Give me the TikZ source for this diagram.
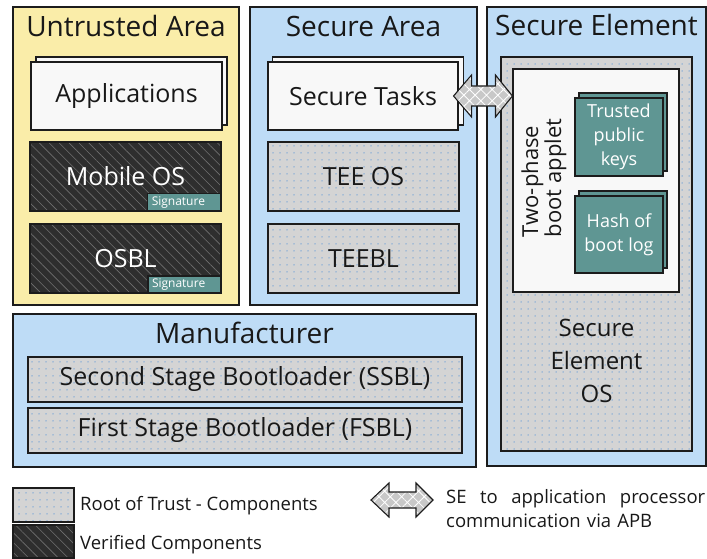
\documentclass[tikz,border=0pt]{standalone}
\usepackage{fontspec}
\setmainfont{Open Sans}
\usetikzlibrary{patterns.meta, calc, positioning}
\definecolor{untrusted}{RGB}{250,237,169}
\definecolor{secure}{RGB}{190,220,246}
\definecolor{rotgray}{RGB}{212,212,212}
\definecolor{rotdot}{RGB}{120,165,215}
\definecolor{verified}{RGB}{46,46,46}
\definecolor{verline}{RGB}{112,112,112}
\definecolor{keyteal}{RGB}{95,150,147}
\definecolor{paper}{RGB}{248,248,248}
\definecolor{edge}{RGB}{28,28,28}
\definecolor{ink}{RGB}{24,24,24}
\definecolor{apbgray}{RGB}{200,200,200}

\newcommand{\titlesize}{\fontsize{28}{32}\selectfont}
\newcommand{\boxsize}{\fontsize{25}{30}\selectfont}
\newcommand{\keysize}{\fontsize{18}{24}\selectfont}
\newcommand{\sigsize}{\fontsize{12}{14}\selectfont}
\newcommand{\legsize}{\fontsize{18.5}{24}\selectfont}

% double arrow: #1 head half height, #2 body half height, #3 left tip, #4 right tip
\newcommand{\apbarrow}[4]{%
  \draw[apb] let \p1=#3, \p2=#4 in
    (\x1,\y1) -- (\x1+18pt,\y1+#1) -- (\x1+18pt,\y1+#2) -- (\x2-17pt,\y2+#2)
    -- (\x2-17pt,\y2+#1) -- (\x2,\y2) -- (\x2-17pt,\y2-#1) -- (\x2-17pt,\y2-#2)
    -- (\x1+18pt,\y1-#2) -- (\x1+18pt,\y1-#1) -- cycle;}

\begin{document}
\begin{tikzpicture}[x=1pt, y=-1pt,
    box/.style={draw=edge, line width=1.1pt, inner sep=0pt, text=ink},
    title/.style={font=\titlesize, text=ink, anchor=base, inner sep=0pt},
    untrustedarea/.style={box, fill=untrusted},
    securearea/.style={box, fill=secure},
    taskbox/.style={box, fill=paper, minimum width=191pt, minimum height=68pt, font=\boxsize},
    rotbox/.style={box, preaction={fill=rotgray}, pattern={Dots[radius=0.8pt,distance=6.5pt]}, pattern color=rotdot},
    verbox/.style={box, preaction={fill=verified}, pattern={Lines[angle=-45,distance=7pt,line width=0.6pt]}, pattern color=verline, text=white},
    sigtag/.style={box, fill=keyteal, text=white, font=\sigsize, minimum height=17pt, text width=65pt, inner xsep=4pt, align=left, anchor=south east},
    keybox/.style={box, fill=keyteal, text=white, font=\keysize, align=center, minimum width=88pt},
    apb/.style={draw=edge, line width=1.1pt, line join=miter, preaction={fill=apbgray}, pattern={Hatch[angle=45,distance=8pt,line width=0.8pt]}, pattern color=white},
    legend/.style={font=\legsize, text=ink, inner sep=0pt}]

    \useasboundingbox (0,0) rectangle (707,559);

    % areas
    \node[untrustedarea, minimum width=226pt, minimum height=298pt] (ua) at (126,156) {};
    \node[securearea, minimum width=227pt, minimum height=298pt] (sa) at (363.5,156) {};
    \node[securearea, minimum width=219pt, minimum height=459pt] (se) at (596.5,236.5) {};
    \node[securearea, minimum width=463pt, minimum height=153pt] (mf) at (244.5,390.5) {};

    \node[title] (ua-title) at (126,37) {Untrusted Area};
    \node[title] (sa-title) at (363.5,37) {Secure Area};
    \node[title] (se-title) at (596.5,36) {Secure Element};
    \node[title] (mf-title) at (244.5,343) {Manufacturer};

    % untrusted area
    \node[taskbox] (apps-back) at (131.5,91) {};
    \node[taskbox] (apps) at (126.5,96) {Applications};
    \node[verbox, minimum width=191pt, minimum height=69pt, font=\boxsize] (mos) at (125.5,176.5) {Mobile OS};
    \node[sigtag] (mos-sig) at (mos.south east) {Signature};
    \node[verbox, minimum width=191pt, minimum height=69pt, font=\boxsize] (osbl) at (125.5,258.5) {OSBL};
    \node[sigtag] (osbl-sig) at (osbl.south east) {Signature};

    % secure area
    \node[taskbox] (tasks-back) at (368,91) {};
    \node[taskbox, minimum width=190pt] (tasks) at (363,96) {Secure Tasks};
    \node[rotbox, minimum width=191pt, minimum height=69pt, font=\boxsize] (teeos) at (363.5,176.5) {TEE OS};
    \node[rotbox, minimum width=191pt, minimum height=69pt, font=\boxsize] (teebl) at (363.5,258.5) {TEEBL};

    % secure element
    \node[rotbox, minimum width=191pt, minimum height=394pt] (seos) at (596.5,254) {};
    \node[font=\fontsize{24}{33}\selectfont, text=ink, align=center] (seos-text) at (596.5,361) {Secure\\Element\\OS};
    \node[box, fill=paper, minimum width=166pt, minimum height=223pt] (applet) at (596,180.5) {};
    \node[font=\fontsize{22}{23}\selectfont, text=ink, align=left, rotate=90] (applet-text) at (544,178) {Two-phase\\boot applet};
    \node[keybox, minimum height=78pt] (keys-back) at (623,132) {};
    \node[keybox, minimum height=78pt] (keys) at (619,137) {Trusted\\public\\keys};
    \node[keybox, minimum height=77pt] (hash-back) at (623,229.5) {};
    \node[keybox, minimum height=77pt] (hash) at (619,234.5) {Hash of\\boot log};

    % manufacturer
    \node[rotbox, minimum width=434pt, minimum height=45pt, font=\boxsize] (ssbl) at (245,379.5) {Second Stage Bootloader (SSBL)};
    \node[rotbox, minimum width=434pt, minimum height=45pt, font=\boxsize] (fsbl) at (245,430.5) {First Stage Bootloader (FSBL)};

    % APB link
    \coordinate (apb-left) at ([xshift=-5pt]tasks.east);
    \coordinate (apb-right) at (applet.west |- tasks.east);
    \apbarrow{21pt}{10pt}{(apb-left)}{(apb-right)}

    % legend
    \node[rotbox, minimum width=61pt, minimum height=34pt] (rot-key) at (43.5,505) {};
    \node[verbox, minimum width=61pt, minimum height=33pt] (ver-key) at (43.5,541.5) {};
    \node[legend, anchor=base west] (rot-text) at (80,510) {Root of Trust - Components};
    \node[legend, anchor=base west] (ver-text) at (80,549) {Verified Components};
    \coordinate (key-left) at (371,500);
    \coordinate (key-right) at (433,500);
    \apbarrow{17pt}{8pt}{(key-left)}{(key-right)}
    \node[legend, anchor=north west, text width=259pt, align=left] (apb-text) at (446,489)
        {SE\hfill to\hfill application\hfill processor\\communication via APB};

\end{tikzpicture}
\end{document}
